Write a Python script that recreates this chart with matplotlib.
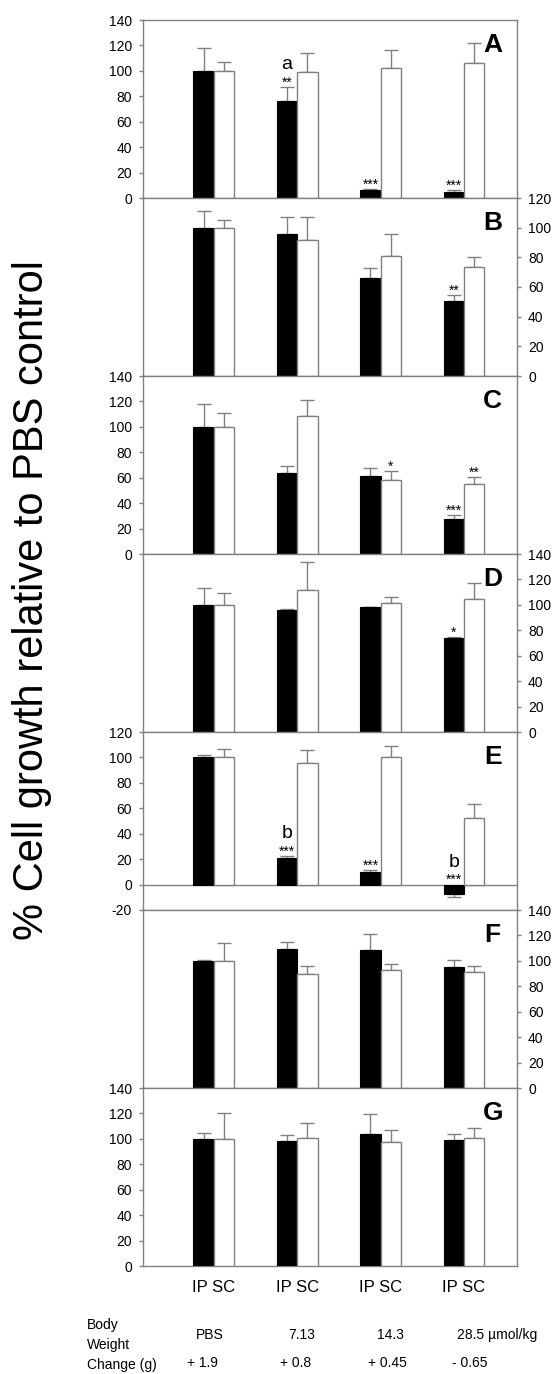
import numpy as np
import matplotlib
matplotlib.use('Agg')
from matplotlib import pyplot as plt

plt.rcParams['font.family'] = ['Liberation Sans', 'DejaVu Sans']
plt.rcParams['axes.unicode_minus'] = False

# groups along x: IP / SC pairs per dose
groups = ['PBS', '7.13', '14.3', '28.5']
panel_names = ['A', 'B', 'C', 'D', 'E', 'F', 'G']

# black bars = IP, white bars = SC (mean, upper error)
ip_vals = {
    'A': [100, 76, 6, 5],
    'B': [100, 96, 66, 50.5],
    'C': [100, 64, 61.6, 27.3],
    'D': [100, 96, 98, 74],
    'E': [100, 20.8, 9.8, -7.7],
    'F': [100, 109.7, 108.9, 95],
    'G': [100, 98.5, 103.5, 99],
}
ip_err = {
    'A': [18, 11, 1, 1],
    'B': [11, 11, 7, 4],
    'C': [18, 5.5, 6, 3],
    'D': [13, 1, 0.5, 0.5],
    'E': [2, 1.5, 1.5, 2],
    'F': [1, 5, 12, 5.5],
    'G': [5, 4.5, 16, 5],
}
sc_vals = {
    'A': [100, 99, 102.6, 105.8],
    'B': [100, 91.4, 81, 73.4],
    'C': [100, 108.5, 58.2, 55.3],
    'D': [100, 111.8, 101.8, 104.5],
    'E': [100, 96, 100, 52.3],
    'F': [100, 89.8, 92.7, 91.1],
    'G': [100, 100.6, 97.7, 100.9],
}
sc_err = {
    'A': [7, 15, 14, 16],
    'B': [5, 16, 15, 7],
    'C': [11, 13, 7, 5],
    'D': [9, 22, 4, 13],
    'E': [7, 10, 9, 11],
    'F': [14, 6, 5, 5],
    'G': [20, 12, 9, 8],
}
y_ranges = {
    'A': (0, 140), 'B': (0, 120), 'C': (0, 140), 'D': (0, 140),
    'E': (-20, 120), 'F': (0, 140), 'G': (0, 140),
}
# significance marks: (group index, 'ip'/'sc', stars, letter)
marks = {
    'A': [(1, 'ip', '**', 'a'), (2, 'ip', '***', ''), (3, 'ip', '***', '')],
    'B': [(3, 'ip', '**', '')],
    'C': [(2, 'sc', '*', ''), (3, 'ip', '***', ''), (3, 'sc', '**', '')],
    'D': [(3, 'ip', '*', '')],
    'E': [(1, 'ip', '***', 'b'), (2, 'ip', '***', ''), (3, 'ip', '***', 'b')],
    'F': [],
    'G': [],
}

dose_labels = ['PBS', '7.13', '14.3', '28.5 µmol/kg']
weight_change = ['+ 1.9', '+ 0.8', '+ 0.45', '- 0.65']

W, H = 558, 1374
fig = plt.figure(figsize=(W / 100, H / 100), dpi=100)
gray = '#808080'
bw = 0.245
x = np.arange(len(groups))

top = 20
ph = 178
for i, name in enumerate(panel_names):
    ax = fig.add_axes([143 / W, 1 - (top + ph) / H, 374 / W, ph / H])
    top += ph
    ipv, ipe = np.array(ip_vals[name]), np.array(ip_err[name])
    scv, sce = np.array(sc_vals[name]), np.array(sc_err[name])

    ax.bar(x - bw / 2, ipv, bw, color='black', edgecolor='black', linewidth=0.8, zorder=3)
    ax.bar(x + bw / 2, scv, bw, color='white', edgecolor=gray, linewidth=1, zorder=3)
    for xs, v, e in [(x - bw / 2, ipv, ipe), (x + bw / 2, scv, sce)]:
        lo = np.where(v < 0, e, 0)
        hi = np.where(v >= 0, e, 0)
        ax.errorbar(xs, v, yerr=[lo, hi], fmt='none', ecolor=gray,
                    elinewidth=1, capsize=5, capthick=1, zorder=2)

    for g, ser, stars, letter in marks[name]:
        if ser == 'ip':
            xx, v, e = g - bw / 2, ipv[g], ipe[g]
        else:
            xx, v, e = g + bw / 2, scv[g], sce[g]
        anchor = v + e if v >= 0 else 0
        ax.annotate(stars, (xx, anchor), xytext=(0, 0.5), textcoords='offset points',
                    ha='center', va='baseline', fontsize=10)
        if letter:
            ax.annotate(letter, (xx, anchor), xytext=(0, 13), textcoords='offset points',
                        ha='center', va='baseline', fontsize=14)

    lo_y, hi_y = y_ranges[name]
    ax.set_ylim(lo_y, hi_y)
    ax.set_yticks(np.arange(lo_y, hi_y + 1, 20))
    ax.set_xlim(-0.85, 3.635)
    if lo_y < 0:
        ax.axhline(0, color=gray, lw=1, zorder=1)

    for sp in ax.spines.values():
        sp.set_color(gray)
        sp.set_linewidth(1)
    if i % 2 == 0:
        ax.yaxis.tick_left()
    else:
        ax.yaxis.tick_right()
    ax.tick_params(axis='y', direction='out', length=3, width=1, color=gray,
                   labelsize=10, pad=5)
    ax.text(0.935, 0.86, name, transform=ax.transAxes, ha='center', va='center',
            fontsize=19, fontweight='bold')

    if name == 'G':
        ax.set_xticks(x)
        ax.set_xticklabels(['IP SC'] * len(groups), fontsize=12)
        ax.tick_params(axis='x', length=0, pad=10)
    else:
        ax.set_xticks([])

fig.text(32 / W, 1 - 600 / H, '% Cell growth relative to PBS control',
         rotation=90, ha='center', va='center', fontsize=30)

fig.text(87 / W, 1 - 1325 / H, 'Body', fontsize=10, va='center')
fig.text(87 / W, 1 - 1345 / H, 'Weight', fontsize=10, va='center')
fig.text(87 / W, 1 - 1365 / H, 'Change (g)', fontsize=10, va='center')

dose_x = [210, 302, 390, 457]
dose_ha = ['center', 'center', 'center', 'left']
for lab, xx, ha in zip(dose_labels, dose_x, dose_ha):
    fig.text(xx / W, 1 - 1335 / H, lab, fontsize=10, ha=ha, va='center')
for lab, xx in zip(weight_change, [187, 280, 368, 452]):
    fig.text(xx / W, 1 - 1363 / H, lab, fontsize=10, ha='left', va='center')

fig.savefig('out.png', dpi=100)
